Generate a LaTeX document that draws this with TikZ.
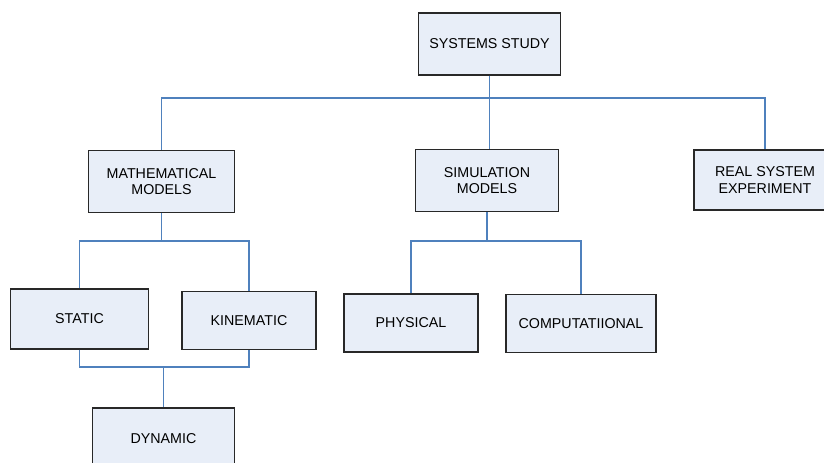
\documentclass[tikz,border=0pt]{standalone}
\usepackage{fontspec}
\setmainfont{Liberation Sans}
\usepackage{xcolor}
\usetikzlibrary{positioning, calc}
\definecolor{blockfill}{RGB}{232,238,248}
\definecolor{blockdraw}{RGB}{40,40,40}
\definecolor{linkblue}{RGB}{79,129,189}
\tikzset{
    block/.style={
        rectangle,
        draw=blockdraw,
        line width=0.9pt,
        fill=blockfill,
        align=center,
        inner sep=0pt,
        font=\fontsize{10.7}{12.2}\selectfont
    },
    link/.style={
        draw=linkblue,
        line width=0.8pt
    }
}

\begin{document}
\begin{tikzpicture}[x=0.75pt, y=-0.75pt]

\clip (0,0) rectangle (824,462);

% Top level
\node[block, minimum width=107pt, minimum height=46.5pt] (study) at (489.5,44) {SYSTEMS STUDY};

% Second level
\node[block, minimum width=110pt, minimum height=47pt] (math) at (161.5,181.5) {MATHEMATICAL\\MODELS};
\node[block, minimum width=107pt, minimum height=46pt] (sim) at (487,180.5) {SIMULATION\\MODELS};
\node[block, minimum width=106.5pt, minimum height=45pt] (real) at (765,180) {REAL SYSTEM\\EXPERIMENT};

% Mathematical models
\node[block, minimum width=104pt, minimum height=45pt] (static) at (79.5,319) {STATIC};
\node[block, minimum width=100.5pt, minimum height=43pt] (kinematic) at (249,320.5) {KINEMATIC};
\node[block, minimum width=107pt, minimum height=46.5pt] (dynamic) at (163.5,439) {DYNAMIC};

% Simulation models
\node[block, minimum width=100.5pt, minimum height=43.5pt] (physical) at (411,323) {PHYSICAL};
\node[block, minimum width=112.5pt, minimum height=43pt] (computational) at (581,323.5) {COMPUTATIIONAL};

% Bus points
\coordinate (topbus) at (study.south |- 0,98);
\coordinate (mathbus) at (math.south |- 0,241);
\coordinate (simbus) at (sim.south |- 0,241);
\coordinate (dynbus) at (dynamic.north |- 0,367);

% Connections
\draw[link] (study.south) -- (study.south |- sim.north);
\draw[link] (math.north) |- (topbus) -| (real.north);
\draw[link] (math.south) -- (mathbus);
\draw[link] (static.north) |- (mathbus) -| (kinematic.north);
\draw[link] (static.south) |- (dynbus) -| (kinematic.south);
\draw[link] (dynbus) -- (dynamic.north);
\draw[link] (sim.south) -- (simbus);
\draw[link] (physical.north) |- (simbus) -| (computational.north);

\end{tikzpicture}
\end{document}
